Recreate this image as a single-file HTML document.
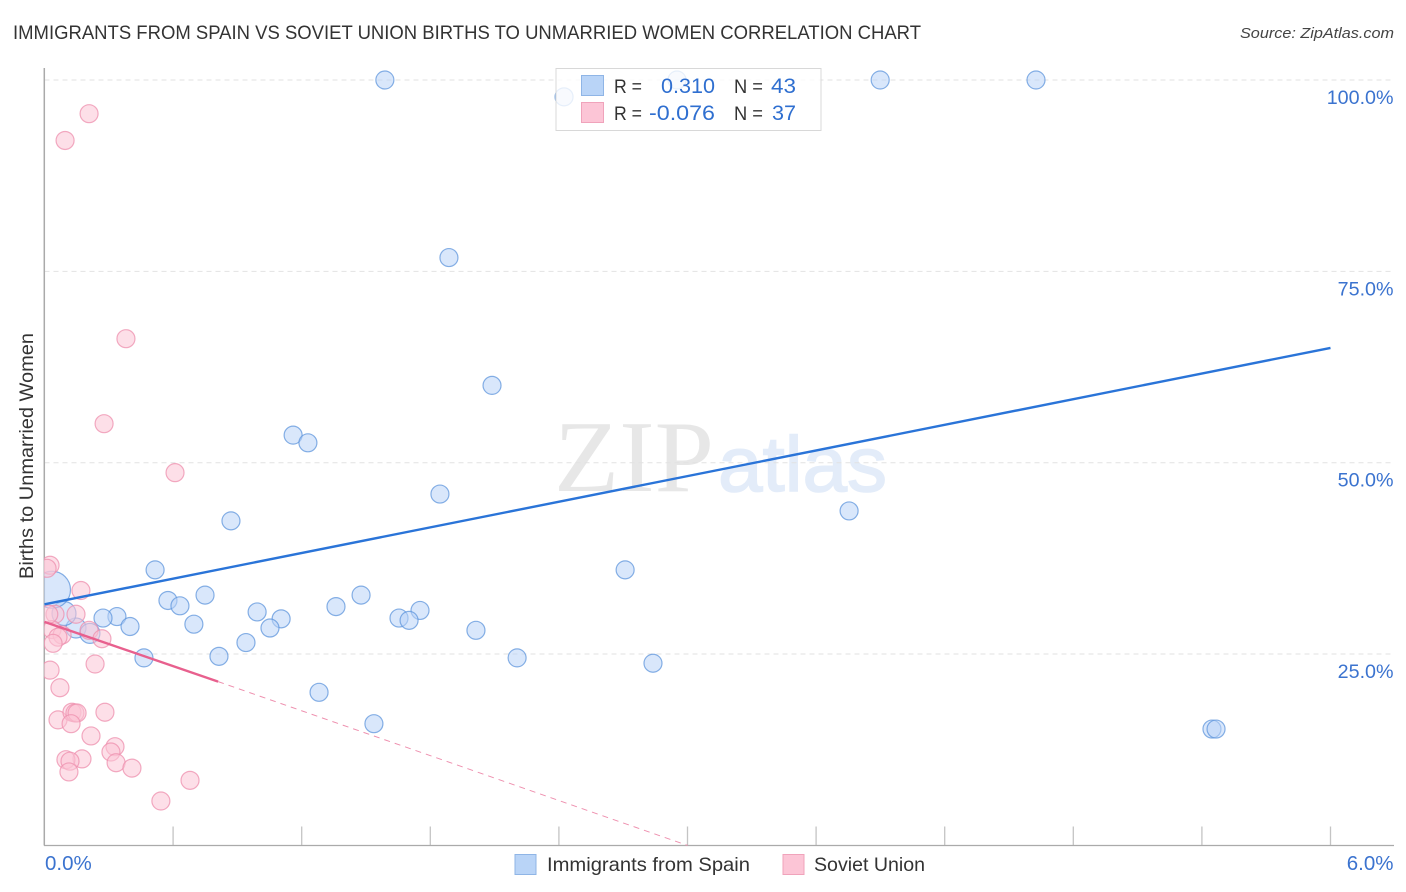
<!DOCTYPE html>
<html>
<head>
<meta charset="utf-8">
<title>Immigrants from Spain vs Soviet Union Births to Unmarried Women Correlation Chart</title>
<style>
html,body{margin:0;padding:0;background:#fff;width:1406px;height:892px;overflow:hidden}
svg{display:block}
text{font-family:"Liberation Sans",sans-serif}
</style>
</head>
<body>
<svg id="chart" width="1406" height="892" viewBox="0 0 1406 892" xmlns="http://www.w3.org/2000/svg">
  <text x="13" y="39" font-size="19" fill="#333" textLength="908" lengthAdjust="spacingAndGlyphs">IMMIGRANTS FROM SPAIN VS SOVIET UNION BIRTHS TO UNMARRIED WOMEN CORRELATION CHART</text>
  <text x="1394" y="38" font-size="15" font-style="italic" fill="#444" text-anchor="end" textLength="154" lengthAdjust="spacingAndGlyphs">Source: ZipAtlas.com</text>
  <text transform="translate(33,456) rotate(-90)" font-size="19" fill="#333" text-anchor="middle" textLength="246" lengthAdjust="spacingAndGlyphs">Births to Unmarried Women</text>
  <g>
    <text x="554" y="491" font-size="102" fill="#e7e7e7" style="font-family:'Liberation Serif',serif" textLength="160" lengthAdjust="spacingAndGlyphs">ZIP</text>
    <text x="718" y="491" font-size="78" fill="#e3ecf9" stroke="#e3ecf9" stroke-width="1.5" textLength="169" lengthAdjust="spacingAndGlyphs">atlas</text>
  </g>
  <g id="grid"></g>
  <g id="axes"></g>
  <defs><clipPath id="plot-clip"><rect x="44" y="60" width="1350" height="786"/></clipPath></defs>
  <g id="blue-points" clip-path="url(#plot-clip)"></g>
  <g id="pink-points" clip-path="url(#plot-clip)"></g>
  <g id="trends"></g>
  <g id="labels"></g>

  <g>
    <rect x="556" y="68.5" width="265" height="62" fill="#fff" fill-opacity="0.8" stroke="#d8d8d8" stroke-width="1"/>
    <rect x="581.5" y="75.5" width="22" height="20" fill="#b9d4f7" stroke="#8fb5e6"/>
    <rect x="581.5" y="102.5" width="22" height="20" fill="#fcc5d6" stroke="#f0a3bb"/>
    <text x="614" y="93" font-size="19" fill="#333" textLength="28" lengthAdjust="spacingAndGlyphs">R =</text>
    <text x="715" y="93" font-size="21" fill="#2f6fd0" text-anchor="end" textLength="54" lengthAdjust="spacingAndGlyphs">0.310</text>
    <text x="734" y="93" font-size="19" fill="#333" textLength="29" lengthAdjust="spacingAndGlyphs">N =</text>
    <text x="796" y="93" font-size="21" fill="#2f6fd0" text-anchor="end" textLength="25" lengthAdjust="spacingAndGlyphs">43</text>
    <text x="614" y="120" font-size="19" fill="#333" textLength="28" lengthAdjust="spacingAndGlyphs">R =</text>
    <text x="715" y="120" font-size="21" fill="#2f6fd0" text-anchor="end" textLength="66" lengthAdjust="spacingAndGlyphs">-0.076</text>
    <text x="734" y="120" font-size="19" fill="#333" textLength="29" lengthAdjust="spacingAndGlyphs">N =</text>
    <text x="796" y="120" font-size="21" fill="#2f6fd0" text-anchor="end" textLength="24" lengthAdjust="spacingAndGlyphs">37</text>
  </g>

  <g>
    <rect x="515" y="854.5" width="21" height="20" fill="#b9d4f7" stroke="#8fb5e6"/>
    <text x="547" y="871" font-size="19.5" fill="#333" textLength="203" lengthAdjust="spacingAndGlyphs">Immigrants from Spain</text>
    <rect x="783" y="854.5" width="21" height="20" fill="#fcc5d6" stroke="#f0a3bb"/>
    <text x="814" y="871" font-size="19.5" fill="#333" textLength="111" lengthAdjust="spacingAndGlyphs">Soviet Union</text>
  </g>
</svg>
<script>
// Data values: x = share (%), y = births to unmarried women (%)
var spainX = [1.588,2.424,2.951,3.899,4.626,1.887,2.088,1.160,1.229,1.845,0.870,3.754,0.516,2.709,0.576,0.632,0.749,1.477,1.360,1.752,1.654,1.701,0.338,0.273,0.992,1.104,0.399,0.697,1.052,2.013,0.147,0.212,0.091,0.464,0.814,0.940,2.205,2.839,1.281,1.537,5.447,5.466,0.035];
var spainY = [100,97.8,100,100,100,76.8,60.1,53.6,52.6,45.9,42.4,43.7,36.0,36.0,32.0,31.3,32.7,32.7,31.2,30.7,29.7,29.4,29.9,29.7,30.5,29.6,28.6,28.9,28.4,28.1,28.4,27.7,30.3,24.5,24.7,26.5,24.5,23.8,20.0,15.9,15.2,15.2,33.4];
var spainR = [9,9,9,9,9,9,9,9,9,9,9,9,9,9,9,9,9,9,9,9,9,9,9,9,9,9,9,9,9,9,10,10,12,9,9,9,9,9,9,9,9,9,18.5];

var sovietX = [0.208,0.096,0.380,0.278,0.609,0.026,0.012,0.170,0.147,0.049,0.035,0.208,0.082,0.063,0.268,0.040,0.236,0.026,0.072,0.063,0.128,0.142,0.152,0.124,0.282,0.217,0.329,0.310,0.334,0.408,0.175,0.100,0.119,0.114,0.679,0.543,0.020];
var sovietY = [95.6,92.1,66.2,55.1,48.7,36.6,36.2,33.3,30.2,30.2,28.2,28.1,27.5,27.2,27.0,26.4,23.7,22.9,20.6,16.4,17.4,17.3,17.3,15.9,17.4,14.3,12.9,12.2,10.8,10.1,11.3,11.2,11.0,9.6,8.5,5.8,30.2];
var sovietR = [9,9,9,9,9,9,9,9,9,9,9,9,9,9,9,9,9,9,9,9,9,9,9,9,9,9,9,9,9,9,9,9,9,9,9,9,9];

// Trend lines as [x, y] value pairs
var spainTrendX = [0,6];
var spainTrendY = [31.5,65.0];
var sovietSolidX = [0,0.81];
var sovietSolidY = [29.2,21.4];
var sovietDashX = [0.81,3.0];
var sovietDashY = [21.4,0];

var yTicks = [25,50,75,100];
var yTickLabels = ["25.0%","50.0%","75.0%","100.0%"];
var xTicks = [0,0.6,1.2,1.8,2.4,3.0,3.6,4.2,4.8,5.4,6.0];
var xEndValues = [0,6];
var xEndLabels = ["0.0%","6.0%"];

function xScale(v){ return 44.5 + v * (1330.5 - 44.5) / 6; }
function yScale(v){ return 845.4 - v * (845.4 - 80) / 100; }

var NS = "http://www.w3.org/2000/svg";
function make(tag, parent, attrs){
  var el = document.createElementNS(NS, tag);
  for (var k in attrs) el.setAttribute(k, attrs[k]);
  document.getElementById(parent).appendChild(el);
  return el;
}

yTicks.forEach(function(t, i){
  var g = make("line", "grid", {x1:44.5, x2:1394, y1:yScale(t), y2:yScale(t), stroke:"#e2e2e2", "stroke-width":1, "stroke-dasharray":"5 4"});
  
  
  var lab = make("text", "labels", {x:1393.5, y:yScale(t) + 24, "font-size":19.7, fill:"#3b73cf", "text-anchor":"end"});
  lab.textContent = yTickLabels[i];
  
  
});

xTicks.forEach(function(t){
  if (t === 0) return;
  var m = make("line", "axes", {x1:xScale(t), x2:xScale(t), y1:826.5, y2:845.5, stroke:"#c4c4c4", "stroke-width":1.3});
  
  
});

var yAxis = make("line", "axes", {x1:44.3, x2:44.3, y1:68, y2:845.5, stroke:"#aaaaaa", "stroke-width":1.5});


var xAxis = make("line", "axes", {x1:44, x2:1394, y1:845.5, y2:845.5, stroke:"#aaaaaa", "stroke-width":1.3});



xEndValues.forEach(function(v, i){
  var lab = make("text", "labels", {x: i === 0 ? xScale(v) + 0.5 : 1393.5, y:870, "font-size":20.5, fill:"#3b73cf", "text-anchor": i === 0 ? "start" : "end"});
  lab.textContent = xEndLabels[i];
  
  
});

spainX.forEach(function(v, i){
  var c = make("circle", "blue-points", {cx:xScale(v), cy:yScale(spainY[i]), r:spainR[i], fill:"#b9d4f7", "fill-opacity":0.55, stroke:"#5f96dc", "stroke-opacity":0.75, "stroke-width":1.2});
  
  
});
sovietX.forEach(function(v, i){
  var c = make("circle", "pink-points", {cx:xScale(v), cy:yScale(sovietY[i]), r:sovietR[i], fill:"#fcc5d6", "fill-opacity":0.55, stroke:"#ee8fae", "stroke-opacity":0.75, "stroke-width":1.2});
  
  
});

var t1 = make("line", "trends", {x1:xScale(spainTrendX[0]), y1:yScale(spainTrendY[0]), x2:xScale(spainTrendX[1]), y2:yScale(spainTrendY[1]), stroke:"#2a74d8", "stroke-width":2.4});


var t2 = make("line", "trends", {x1:xScale(sovietSolidX[0]), y1:yScale(sovietSolidY[0]), x2:xScale(sovietSolidX[1]), y2:yScale(sovietSolidY[1]), stroke:"#e8608e", "stroke-width":2.4});


var t3 = make("line", "trends", {x1:xScale(sovietDashX[0]), y1:yScale(sovietDashY[0]), x2:xScale(sovietDashX[1]), y2:yScale(sovietDashY[1]), stroke:"#ee8fae", "stroke-width":1, "stroke-dasharray":"6 5"});


</script>
</body>
</html>
